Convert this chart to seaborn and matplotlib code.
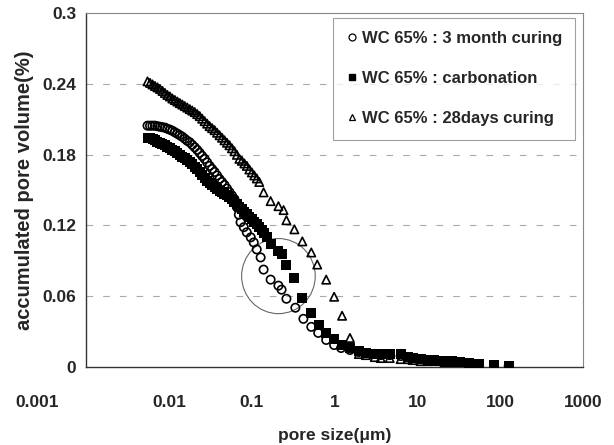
import matplotlib
matplotlib.use("Agg")
import matplotlib.pyplot as plt
from matplotlib.lines import Line2D
from matplotlib.patches import Ellipse
from matplotlib.transforms import ScaledTranslation
import seaborn as sns
import pandas as pd

# ---- data ----
x_month = [0.00553, 0.00593, 0.00635, 0.0068, 0.00729, 0.00781, 0.00837, 0.00896, 0.0096, 0.01029,
           0.01102, 0.01181, 0.01265, 0.01355, 0.01452, 0.01556, 0.01667, 0.01786, 0.01914, 0.0205,
           0.02197, 0.02354, 0.02522, 0.02702, 0.02895, 0.03101, 0.03323, 0.0356, 0.03814, 0.04087,
           0.04379, 0.04691, 0.05026, 0.05385, 0.0577, 0.06182, 0.06623, 0.0699, 0.0733, 0.0802,
           0.0871, 0.0973, 0.1057, 0.1148, 0.128, 0.139, 0.169, 0.21, 0.229, 0.262,
           0.336, 0.42, 0.523, 0.634, 0.791, 0.986, 1.197, 1.53, 1.96, 2.38,
           3.05, 3.6, 4.62, 6.26, 7.59, 8.71, 10.9, 13.2, 16.0, 21.1,
           26.2, 32.7, 42.0, 55.3, 83.6, 126.0]
y_month = [0.2045, 0.2045, 0.2045, 0.2045, 0.204, 0.2036, 0.2032, 0.2028, 0.2019, 0.2011,
           0.2002, 0.1989, 0.1977, 0.1964, 0.1951, 0.1934, 0.1917, 0.1904, 0.1883, 0.1862,
           0.184, 0.1815, 0.1789, 0.1764, 0.1734, 0.1704, 0.1678, 0.1653, 0.1623, 0.1593,
           0.1568, 0.1542, 0.1512, 0.1482, 0.1453, 0.1423, 0.1355, 0.1291, 0.1227, 0.1185,
           0.1142, 0.1099, 0.1056, 0.0997, 0.0929, 0.0826, 0.0741, 0.069, 0.0656, 0.0579,
           0.0503, 0.0409, 0.0341, 0.029, 0.023, 0.0187, 0.0162, 0.0145, 0.0128, 0.0119,
           0.0111, 0.0102, 0.0102, 0.0094, 0.0085, 0.0077, 0.0068, 0.006, 0.006, 0.0051,
           0.0043, 0.0034, 0.0026, 0.0017, 0.0012, 0.001]

x_carb = [0.00553, 0.00593, 0.00635, 0.0068, 0.00729, 0.00781, 0.00837, 0.00896, 0.0096, 0.01029,
          0.01102, 0.01181, 0.01265, 0.01355, 0.01452, 0.01556, 0.01667, 0.01786, 0.01914, 0.0205,
          0.02197, 0.02354, 0.02522, 0.02702, 0.02895, 0.03101, 0.03323, 0.0356, 0.03814, 0.04087,
          0.04379, 0.04691, 0.05026, 0.05385, 0.0577, 0.06182, 0.06623, 0.07096, 0.07603, 0.08146,
          0.08727, 0.0935, 0.1002, 0.1073, 0.115, 0.1232, 0.1318, 0.1412, 0.1512, 0.169,
          0.21, 0.229, 0.262, 0.327, 0.408, 0.523, 0.652, 0.791, 0.986, 1.23,
          1.53, 1.96, 2.38, 3.05, 3.6, 4.62, 6.26, 7.59, 8.71, 10.9,
          13.2, 16.0, 21.1, 26.2, 32.7, 42.0, 55.3, 83.6, 126.0]
y_carb = [0.1943, 0.1938, 0.193, 0.1921, 0.1908, 0.19, 0.1887, 0.1879, 0.1866, 0.1853,
          0.184, 0.1828, 0.1815, 0.1798, 0.1781, 0.1768, 0.1751, 0.1734, 0.1717, 0.1695,
          0.1674, 0.1653, 0.1627, 0.1602, 0.158, 0.1559, 0.1542, 0.1525, 0.1508, 0.1495,
          0.1482, 0.147, 0.1457, 0.1444, 0.1423, 0.1402, 0.138, 0.1359, 0.1338, 0.1316,
          0.1295, 0.1274, 0.1252, 0.1231, 0.121, 0.1189, 0.1163, 0.1133, 0.1099, 0.104,
          0.098, 0.0954, 0.0869, 0.0758, 0.0588, 0.046, 0.0358, 0.029, 0.0239, 0.0187,
          0.0162, 0.0136, 0.0119, 0.0111, 0.0111, 0.0111, 0.0111, 0.0085, 0.0077, 0.0068,
          0.006, 0.006, 0.0051, 0.0051, 0.0043, 0.0034, 0.0026, 0.0017, 0.0012]

x_days = [0.00553, 0.00593, 0.00635, 0.0068, 0.00729, 0.00781, 0.00837, 0.00896, 0.0096, 0.01029,
          0.01102, 0.01181, 0.01265, 0.01355, 0.01452, 0.01556, 0.01667, 0.01786, 0.01914, 0.0205,
          0.02197, 0.02354, 0.02522, 0.02702, 0.02895, 0.03101, 0.03323, 0.0356, 0.03814, 0.04087,
          0.04379, 0.04691, 0.05026, 0.05385, 0.0577, 0.06182, 0.06623, 0.07096, 0.07603, 0.08146,
          0.08727, 0.0935, 0.1002, 0.1073, 0.115, 0.1232, 0.139, 0.169, 0.21, 0.242,
          0.262, 0.327, 0.408, 0.523, 0.617, 0.791, 0.986, 1.23, 1.53, 1.96,
          2.38, 3.05, 3.6, 4.62, 6.26, 7.59, 8.71, 10.9, 13.2, 16.0,
          21.1, 26.2, 32.7, 42.0, 55.3, 83.6, 126.0]
y_days = [0.242, 0.2407, 0.2394, 0.2381, 0.2369, 0.2356, 0.2339, 0.2322, 0.2305, 0.2292,
          0.2275, 0.2262, 0.2249, 0.2236, 0.2224, 0.2211, 0.2198, 0.2185, 0.2173, 0.216,
          0.2143, 0.2126, 0.2104, 0.2083, 0.2062, 0.2041, 0.2024, 0.2007, 0.1985, 0.1964,
          0.1943, 0.1921, 0.19, 0.1879, 0.1853, 0.1828, 0.1798, 0.1764, 0.1747, 0.1725,
          0.1704, 0.1674, 0.1649, 0.1623, 0.1598, 0.1568, 0.148, 0.1406, 0.1363, 0.133,
          0.1244, 0.1167, 0.1065, 0.0971, 0.0869, 0.0741, 0.0596, 0.0435, 0.0247, 0.0111,
          0.0102, 0.0085, 0.0077, 0.0077, 0.0068, 0.0068, 0.006, 0.0051, 0.0051, 0.0051,
          0.0043, 0.0043, 0.0034, 0.0026, 0.0017, 0.0012, 0.001]

labels = ["WC 65% : 3 month curing", "WC 65% : carbonation", "WC 65% : 28days curing"]
x_ticks = [0.001, 0.01, 0.1, 1, 10, 100, 1000]
x_tick_labels = ["0.001", "0.01", "0.1", "1", "10", "100", "1000"]
y_ticks = [0, 0.06, 0.12, 0.18, 0.24, 0.3]
y_tick_labels = ["0", "0.06", "0.12", "0.18", "0.24", "0.3"]

sns.set_theme(style="white")
plt.rcParams['font.family'] = ['Liberation Sans', 'DejaVu Sans']
plt.rcParams['font.weight'] = 'bold'

fig = plt.figure(figsize=(6.14, 4.45), dpi=100)
ax = fig.add_axes([0.140, 0.175, 0.810, 0.796])

df_m = pd.DataFrame({"x": x_month, "y": y_month})
df_c = pd.DataFrame({"x": x_carb, "y": y_carb})
df_d = pd.DataFrame({"x": x_days, "y": y_days})

sns.scatterplot(data=df_d, x="x", y="y", marker="^", s=36, color="black", ax=ax, zorder=3)
ax.collections[-1].set_facecolor("none")
ax.collections[-1].set_edgecolor("black")
ax.collections[-1].set_linewidth(1.2)

sns.scatterplot(data=df_c, x="x", y="y", marker="s", s=42, color="black", ax=ax,
                zorder=4, linewidth=0)

sns.scatterplot(data=df_m, x="x", y="y", marker="o", s=36, color="black", ax=ax, zorder=5)
ax.collections[-1].set_facecolor("none")
ax.collections[-1].set_edgecolor("black")
ax.collections[-1].set_linewidth(1.2)

ax.set_xscale("log")
ax.set_xlim(0.001, 1000)
ax.set_ylim(0, 0.3)
ax.set_xticks(x_ticks)
ax.set_xticklabels(x_tick_labels)
ax.minorticks_off()
ax.set_yticks(y_ticks)
ax.set_yticklabels(y_tick_labels)
ax.tick_params(axis="both", labelsize=12.5, length=0)
ax.tick_params(axis="x", pad=20)
ax.tick_params(axis="y", pad=7)
for lab in ax.get_xticklabels() + ax.get_yticklabels():
    lab.set_fontweight("bold")
first = ax.get_xticklabels()[0]
first.set_transform(first.get_transform() + ScaledTranslation(-0.49, 0, fig.dpi_scale_trans))

for yv in y_ticks[1:-1]:
    ax.axhline(yv, color="#aaaaaa", lw=0.8, ls=(0, (6, 9)), zorder=1)

for side in ["top", "right"]:
    ax.spines[side].set_color("#888888")
    ax.spines[side].set_linewidth(0.8)
for side in ["left", "bottom"]:
    ax.spines[side].set_color("#333333")
    ax.spines[side].set_linewidth(1.0)

ax.set_xlabel("pore size(μm)", fontsize=12.5, fontweight="bold", labelpad=13)
ax.set_ylabel("accumulated pore volume(%)", fontsize=14.5, fontweight="bold", labelpad=6)

# annotation circle
ell = Ellipse((0.387, 0.257), 0.148, 0.212, transform=ax.transAxes,
              fill=False, edgecolor="#666666", lw=0.8, zorder=2)
ax.add_patch(ell)

handles = [
    Line2D([], [], marker="o", ls="none", mfc="none", mec="black", ms=5, mew=0.9),
    Line2D([], [], marker="s", ls="none", mfc="black", mec="black", ms=5),
    Line2D([], [], marker="^", ls="none", mfc="none", mec="black", ms=5, mew=0.9),
]
leg = ax.legend(handles, labels, loc="upper right", bbox_to_anchor=(0.984, 0.986),
                frameon=True, fancybox=False, edgecolor="#888888",
                prop={"size": 12, "weight": "bold"}, handlelength=0.6,
                handletextpad=0.3, labelspacing=1.5, borderpad=0.8, borderaxespad=0.0)
leg.get_frame().set_linewidth(0.8)

fig.savefig("out.png", dpi=100)
